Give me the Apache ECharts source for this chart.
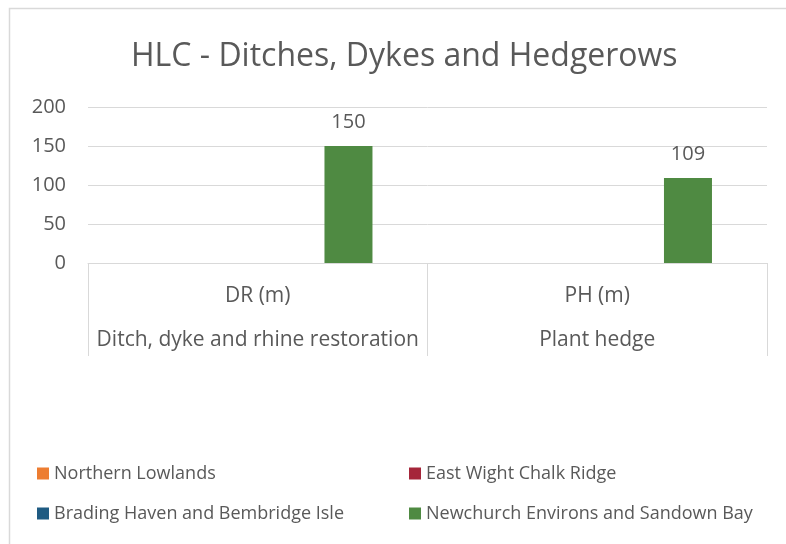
<!DOCTYPE html>
<html>
<head>
<meta charset="utf-8">
<script src="https://cdn.jsdelivr.net/npm/echarts@6/dist/echarts.min.js"></script>
<style>
  html, body { margin: 0; padding: 0; background: #fff; }
  #chart { width: 786px; height: 544px; }
</style>
</head>
<body>
<div id="chart"></div>
<script>
// 数据
const codes = ['DR (m)', 'PH (m)'];
const names = ['Ditch, dyke and rhine restoration', 'Plant hedge'];
const seriesNames = ['Northern Lowlands', 'East Wight Chalk Ridge', 'Brading Haven and Bembridge Isle', 'Newchurch Environs and Sandown Bay'];
const seriesColors = ['#ed7d31', '#a5263a', '#1f5b82', '#4f8a42'];
const northernLowlands = [null, null];
const eastWight = [null, null];
const bradingHaven = [null, null];
const newchurch = [150, 109];
const yTicks = [0, 50, 100, 150, 200];

const values = [northernLowlands, eastWight, bradingHaven, newchurch];
const font = 'Open Sans';
const textColor = '#595959';

const chart = echarts.init(document.getElementById('chart'));

// 图例样式（两列）
const legendBase = {
  orient: 'vertical',
  top: 458,
  itemWidth: 12, itemHeight: 12, itemGap: 19,
  icon: 'rect',
  textStyle: { color: textColor, fontSize: 18, lineHeight: 21, fontFamily: font }
};

const option = {
  animation: false,
  textStyle: { fontFamily: font },
  graphic: [{
    type: 'rect',
    shape: { x: 9.5, y: 8.5, width: 800, height: 560 },
    style: { fill: 'none', stroke: '#d9d9d9', lineWidth: 1.5 },
    silent: true
  }],
  title: {
    text: 'HLC - Ditches, Dykes and Hedgerows',
    left: 126,
    top: 36,
    textStyle: { color: textColor, fontSize: 32, fontWeight: 'normal', fontFamily: font }
  },
  legend: [
    Object.assign({ data: [seriesNames[0], seriesNames[2]], left: 32 }, legendBase),
    Object.assign({ data: [seriesNames[1], seriesNames[3]], left: 404 }, legendBase)
  ],
  grid: { left: 88, right: 19, top: 107, height: 156, containLabel: false },
  xAxis: {
    type: 'category',
    data: codes,
    axisLine: { show: true, lineStyle: { color: '#d9d9d9', width: 1 } },
    axisTick: { show: true, length: 93, interval: 0, lineStyle: { color: '#d9d9d9', width: 1 } },
    axisLabel: {
      interval: 0,
      margin: 11,
      formatter: function (v, i) {
        return '{a|' + v + '}\n{b|' + names[i] + '}';
      },
      rich: {
        a: { fontSize: 21, color: textColor, fontFamily: font, lineHeight: 44 },
        b: { fontSize: 21, color: textColor, fontFamily: font, lineHeight: 44 }
      }
    }
  },
  yAxis: {
    type: 'value',
    min: yTicks[0],
    max: yTicks[yTicks.length - 1],
    interval: 50,
    axisLine: { show: false },
    axisTick: { show: false },
    axisLabel: { color: textColor, fontSize: 20, margin: 22, fontFamily: font },
    splitLine: { lineStyle: { color: '#d9d9d9', width: 1 } }
  },
  series: seriesNames.map(function (n, i) {
    return {
      name: n,
      type: 'bar',
      data: values[i],
      barWidth: 48,
      barGap: '26%',
      itemStyle: { color: seriesColors[i] },
      label: {
        show: true,
        position: 'top',
        distance: 14,
        color: textColor,
        fontSize: 20,
        fontFamily: font
      }
    };
  })
};

chart.setOption(option);
</script>
</body>
</html>
